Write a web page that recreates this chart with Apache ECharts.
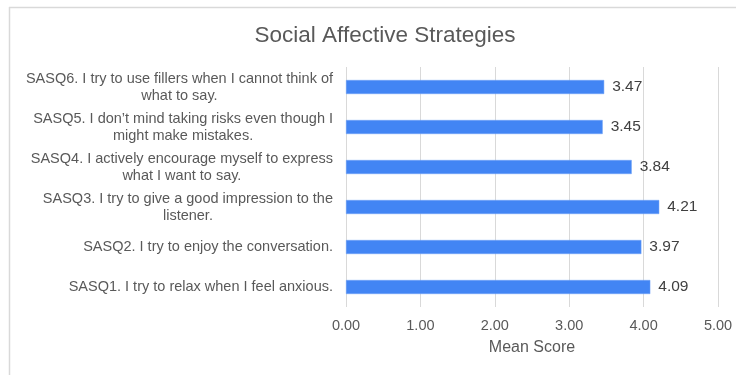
<!DOCTYPE html>
<html>
<head>
<meta charset="utf-8">
<script src="https://cdn.jsdelivr.net/npm/echarts@6/dist/echarts.min.js"></script>
<style>
html,body{margin:0;padding:0;background:#fff;}
#chart{width:736px;height:375px;}
</style>
</head>
<body>
<div id="chart"></div>
<script>
var categories = [
  ["SASQ1. I try to relax when I feel anxious."],
  ["SASQ2. I try to enjoy the conversation."],
  ["SASQ3. I try to give a good impression to the", "listener."],
  ["SASQ4. I actively encourage myself to express", "what I want to say."],
  ["SASQ5. I don\u2019t mind taking risks even though I", "might make mistakes."],
  ["SASQ6. I try to use fillers when I cannot think of", "what to say."]
];
var meanScores = [4.09, 3.97, 4.21, 3.84, 3.45, 3.47];
var xTicks = [0, 1, 2, 3, 4, 5];

var font = "'Liberation Sans', Arial, sans-serif";
var chart = echarts.init(document.getElementById('chart'));
chart.setOption({
  animation: false,
  backgroundColor: '#fff',
  title: {
    text: 'Social Affective Strategies',
    left: 380, top: 19, textAlign: 'center',
    textStyle: {fontFamily: font, fontSize: 22.5, fontWeight: 'normal', color: '#595959'}
  },
  graphic: [
    {type: 'line', shape: {x1: 9, y1: 7.5, x2: 736, y2: 7.5}, style: {stroke: '#d9d9d9', lineWidth: 1.5}},
    {type: 'line', shape: {x1: 9.5, y1: 7, x2: 9.5, y2: 375}, style: {stroke: '#d9d9d9', lineWidth: 1.5}}
  ],
  grid: {left: 346, right: 18, top: 67, bottom: 68, containLabel: false},
  xAxis: {
    type: 'value', min: xTicks[0], max: xTicks[xTicks.length - 1], interval: 1,
    name: 'Mean Score', nameLocation: 'middle', nameGap: 33,
    nameTextStyle: {fontFamily: font, fontSize: 16, color: '#595959'},
    axisLine: {show: false}, axisTick: {show: false},
    axisLabel: {fontFamily: font, fontSize: 14.5, color: '#595959', margin: 11,
      formatter: function (v) { return v.toFixed(2); }},
    splitLine: {show: true, lineStyle: {color: '#d9d9d9', width: 1}}
  },
  yAxis: {
    type: 'category',
    data: categories.map(function (c) { return c.join('\n'); }),
    axisLine: {show: false}, axisTick: {show: false},
    axisLabel: {
      margin: 13, fontFamily: font, fontSize: 14.5, color: '#595959', lineHeight: 17,
      formatter: function (v) {
        return v.split('\n').map(function (l) { return '{c|' + l + '}'; }).join('\n');
      },
      rich: {c: {align: 'center', fontFamily: font, fontSize: 14.5, color: '#595959', lineHeight: 17}}
    }
  },
  series: [{
    type: 'bar',
    data: meanScores,
    barWidth: 14,
    itemStyle: {color: '#4285F4', borderColor: '#6fa0f6', borderWidth: 0.5},
    label: {show: true, position: 'right', distance: 8, fontFamily: font, fontSize: 15.5, color: '#404040',
      formatter: function (p) { return p.value.toFixed(2); }}
  }]
});
</script>
</body>
</html>
